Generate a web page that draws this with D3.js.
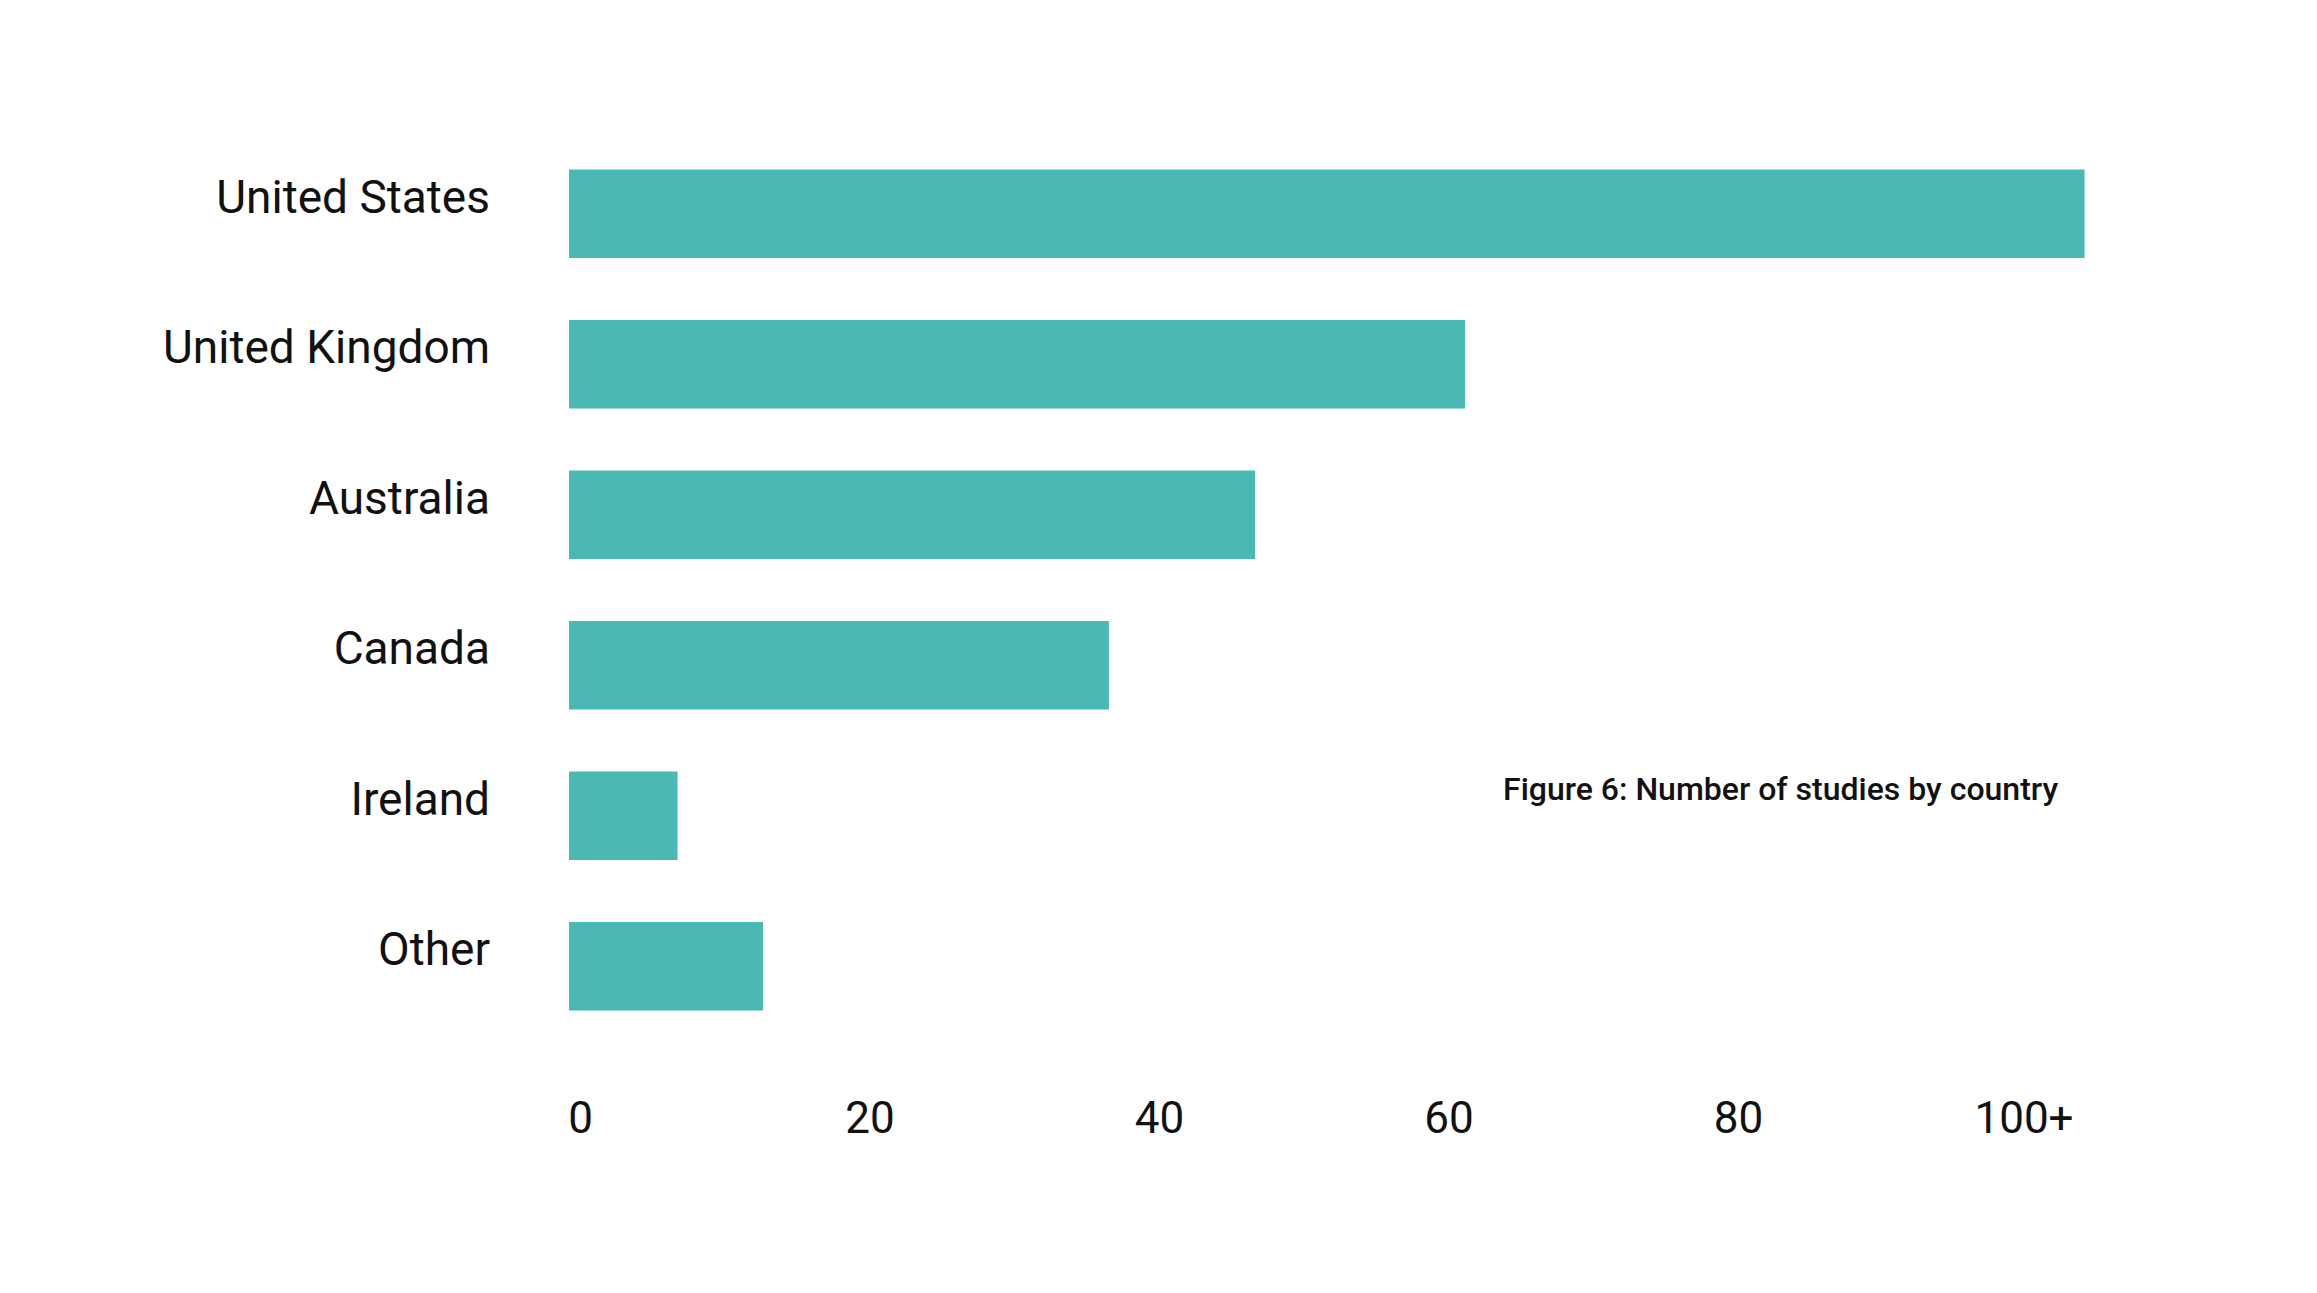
<!DOCTYPE html>
<html>
<head>
<meta charset="utf-8">
<script src="https://cdn.jsdelivr.net/npm/d3@7"></script>
<style>
  html, body { margin: 0; padding: 0; background: #ffffff; }
  svg { display: block; }
  text { font-family: Roboto, "Noto Sans", sans-serif; fill: #111111; }
</style>
</head>
<body>
<svg id="chart" width="2317" height="1293"></svg>
<script>
const categories = ["United States", "United Kingdom", "Australia", "Canada", "Ireland", "Other"];
const studies = [104.7, 61.9, 47.4, 37.3, 7.5, 13.4];
const tickValues = [0, 20, 40, 60, 80, 100];
const tickLabels = ["0", "20", "40", "60", "80", "100+"];
const title = "Figure 6: Number of studies by country";

const svg = d3.select("#chart");
const barColor = "#4ab9b4";

const x = d3.scaleLinear().domain([0, 100]).range([569, 2016.5]);
const y = d3.scaleBand().domain(categories).range([169.5, 1010.5])
  .paddingInner(0.412).paddingOuter(0);

// bars
svg.append("g").selectAll("rect")
  .data(categories)
  .join("rect")
  .attr("x", x(0))
  .attr("y", d => y(d))
  .attr("width", (d, i) => x(studies[i]) - x(0))
  .attr("height", y.bandwidth())
  .attr("fill", barColor);

// category labels
svg.append("g").selectAll("text")
  .data(categories)
  .join("text")
  .attr("x", 490)
  .attr("y", d => y(d) + y.bandwidth() / 2 - 1)
  .attr("text-anchor", "end")
  .style("font-size", "46px")
  .text(d => d);

// x axis
const axis = d3.axisBottom(x)
  .tickValues(tickValues)
  .tickSize(0)
  .tickFormat((d, i) => tickLabels[i]);

const gx = svg.append("g")
  .attr("transform", "translate(11,0)")
  .call(axis);
gx.select(".domain").remove();
gx.selectAll(".tick text")
  .attr("y", 1133)
  .attr("dy", 0)
  .attr("dx", (d, i) => i === 5 ? -4 : 0)
  .attr("fill", "#111111")
  .style("font-family", "Roboto, sans-serif")
  .style("font-size", "44px");

// title
svg.append("text")
  .attr("x", 1503)
  .attr("y", 800)
  .attr("text-anchor", "start")
  .style("font-size", "32px")
  .style("font-weight", 500)
  .text(title);
</script>
</body>
</html>
